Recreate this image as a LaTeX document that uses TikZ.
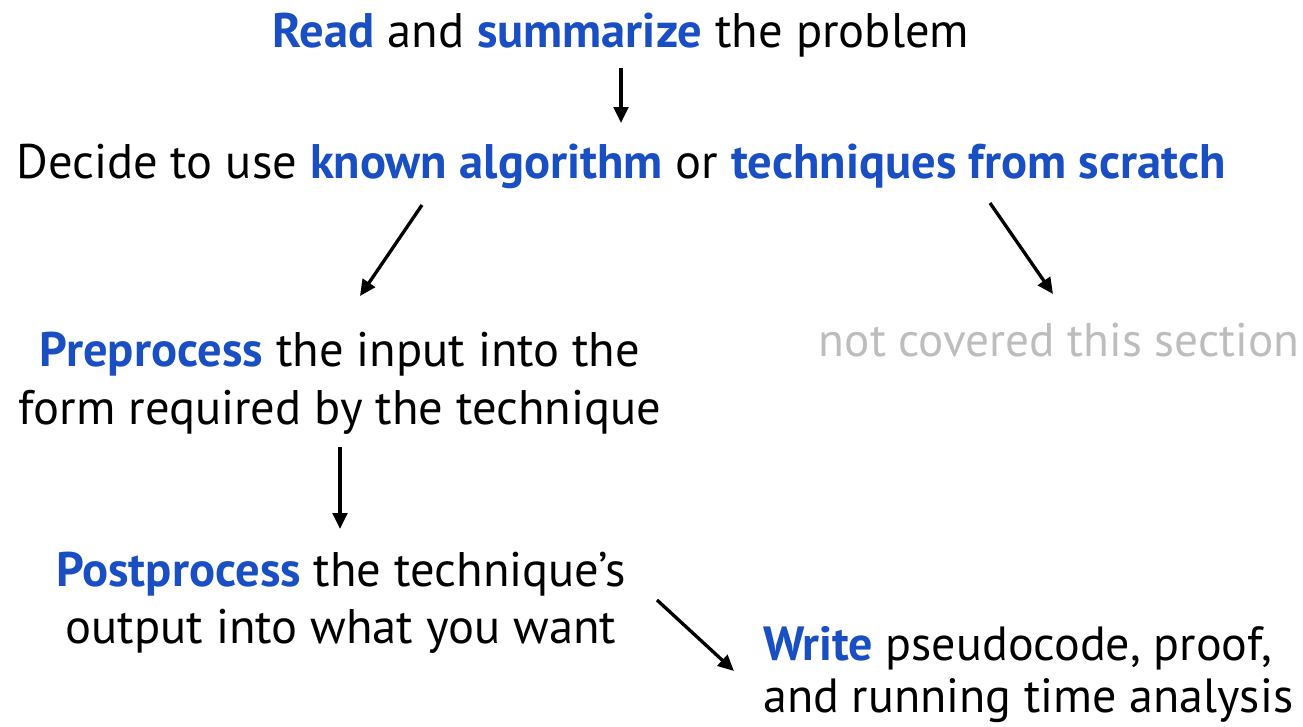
\documentclass[tikz,border=0pt]{standalone}
\usepackage{fontspec}
\setmainfont{PT Sans}
\usetikzlibrary{arrows.meta}
\definecolor{hl}{HTML}{1A4FC4}
\definecolor{gr}{HTML}{BDBDBD}
\newcommand{\hb}[1]{\textbf{\textcolor{hl}{#1}}}
\begin{document}
\begin{tikzpicture}[x=0.75pt,y=-0.75pt,
  txt/.style={font=\fontsize{36.4}{43.5}\selectfont, inner sep=0pt, anchor=base},
  arr/.style={line width=2.5pt, -{Triangle[length=12pt,width=11pt]}}]
\useasboundingbox (0,0) rectangle (1303,726);
% texts
\node[txt] (read) at (621,47) {\hb{Read} and \hb{summarize} the problem};
\node[txt] (decide) at (621,178) {Decide to use \hb{known algorithm} or \hb{techniques from scratch}};
\node[txt] (pre1) at (340,366) {\hb{Preprocess} the input into the};
\node[txt] (pre2) at (340,424) {form required by the technique};
\node[txt, text=gr, font=\fontsize{35.4}{43.5}\selectfont] (notc) at (1059,356) {not covered this section};
\node[txt] (post1) at (341,586) {\hb{Postprocess} the technique’s};
\node[txt] (post2) at (341,643) {output into what you want};
\node[txt, anchor=base west, font=\fontsize{36}{43.5}\selectfont] (write1) at (763,660) {\hb{Write} pseudocode, proof,};
\node[txt, anchor=base west, font=\fontsize{36}{43.5}\selectfont] (write2) at (763,712) {and running time analysis};
% arrow end points
\coordinate (a1s) at (621,68);  \coordinate (a1e) at (621,123);
\coordinate (a2s) at (422,205); \coordinate (a2e) at (360,296);
\coordinate (a3s) at (990,203); \coordinate (a3e) at (1053,294);
\coordinate (a4s) at (340,447); \coordinate (a4e) at (340,529);
\coordinate (a5s) at (657,600); \coordinate (a5e) at (734,671);
\draw[arr] (a1s) -- (a1e);
\draw[arr] (a2s) -- (a2e);
\draw[arr] (a3s) -- (a3e);
\draw[arr] (a4s) -- (a4e);
\draw[arr] (a5s) -- (a5e);
\end{tikzpicture}
\end{document}
